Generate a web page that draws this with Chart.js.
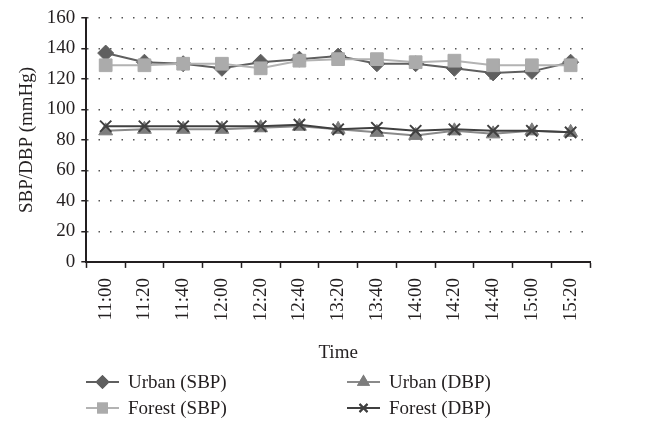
<!DOCTYPE html>
<html>
<head>
<meta charset="utf-8">
<script src="https://cdn.jsdelivr.net/npm/chart.js@4"></script>
<style>
  html, body { margin: 0; padding: 0; background: #fff; }
  .graphBox { width: 650px; height: 433px; }
</style>
</head>
<body>
<div class="graphBox"><canvas id="chart"></canvas></div>
<script>
const times = ['11:00', '11:20', '11:40', '12:00', '12:20', '12:40', '13:20', '13:40', '14:00', '14:20', '14:40', '15:00', '15:20'];
const urbanSBP = [137, 131, 130, 127, 131, 133, 135, 130, 130, 127, 124, 125, 131];
const urbanDBP = [86, 87, 87, 87, 88, 89, 87, 85, 83, 86, 84, 86, 85];
const forestSBP = [129, 129, 130, 130, 127, 132, 133, 133, 131, 132, 129, 129, 129];
const forestDBP = [89, 89, 89, 89, 89, 90, 87, 88, 86, 87, 86, 86, 85];
const yTicks = [0, 20, 40, 60, 80, 100, 120, 140, 160];

const serif = '"Liberation Serif", "DejaVu Serif", serif';
const textColor = '#231f20';

// legend drawn by hand: line with marker in the middle, two columns
const lineLegend = {
  id: 'lineLegend',
  afterDraw(chart) {
    const ctx = chart.ctx;
    const spots = [[86, 382], [347, 382], [86, 408], [347, 408]];
    chart.data.datasets.forEach((ds, i) => {
      const [x, y] = spots[i];
      ctx.save();
      ctx.strokeStyle = ds.borderColor;
      ctx.lineWidth = 2;
      ctx.beginPath();
      ctx.moveTo(x, y);
      ctx.lineTo(x + 33, y);
      ctx.stroke();
      Chart.helpers.drawPoint(ctx, {
        pointStyle: ds.pointStyle,
        radius: ds.pointRadius * 0.7,
        borderWidth: ds.pointBorderWidth || 1
      }, x + 16.5, y);
      ctx.fillStyle = ds.pointBackgroundColor;
      ctx.strokeStyle = ds.pointBorderColor;
      ctx.fill();
      ctx.stroke();
      ctx.fillStyle = textColor;
      ctx.font = '19px ' + serif;
      ctx.textBaseline = 'middle';
      ctx.fillText(ds.label, x + 42, y + 1);
      ctx.restore();
    });
  }
};

new Chart(document.getElementById('chart'), {
  type: 'line',
  data: {
    labels: times,
    datasets: [
      {
        label: 'Urban (SBP)', data: urbanSBP, order: 3,
        borderColor: '#5f5f5f', pointStyle: 'rectRot', pointRadius: 8,
        pointBackgroundColor: '#5f5f5f', pointBorderColor: '#5f5f5f', pointBorderWidth: 1
      },
      {
        label: 'Urban (DBP)', data: urbanDBP, order: 2,
        borderColor: '#8a8a8a', pointStyle: 'triangle', pointRadius: 8,
        pointBackgroundColor: '#7d7d7d', pointBorderColor: '#7d7d7d', pointBorderWidth: 1
      },
      {
        label: 'Forest (SBP)', data: forestSBP, order: 1,
        borderColor: '#b3b3b3', pointStyle: 'rect', pointRadius: 9,
        pointBackgroundColor: '#ababab', pointBorderColor: '#ababab', pointBorderWidth: 1
      },
      {
        label: 'Forest (DBP)', data: forestDBP, order: 0,
        borderColor: '#404040', pointStyle: 'crossRot', pointRadius: 8,
        pointBackgroundColor: '#404040', pointBorderColor: '#404040', pointBorderWidth: 2
      }
    ]
  },
  options: {
    responsive: true,
    maintainAspectRatio: false,
    animation: false,
    elements: { line: { borderWidth: 2, tension: 0 } },
    layout: { padding: { left: 16, right: 60, top: 18, bottom: 69 } },
    plugins: {
      legend: { display: false },
      tooltip: { enabled: false }
    },
    scales: {
      x: {
        offset: true,
        grid: {
          offset: true,
          drawOnChartArea: false,
          drawTicks: true,
          tickLength: 6,
          tickColor: '#231f20',
          tickWidth: 1.5
        },
        border: { color: '#231f20', width: 2 },
        ticks: {
          color: textColor,
          font: { family: serif, size: 19 },
          maxRotation: 90,
          minRotation: 90,
          padding: 10
        },
        title: {
          display: true,
          text: 'Time',
          color: textColor,
          font: { family: serif, size: 19 },
          padding: { top: 10, bottom: 0 }
        }
      },
      y: {
        min: 0,
        max: 160,
        afterBuildTicks(scale) {
          scale.ticks = yTicks.map(v => ({ value: v }));
        },
        grid: {
          color: '#555',
          lineWidth: 1.5,
          tickBorderDash: [0, 0],
          tickColor: '#231f20',
          tickLength: 5,
          tickWidth: 1.5
        },
        border: { color: '#231f20', width: 2, dash: [1.5, 10] },
        ticks: {
          color: textColor,
          font: { family: serif, size: 19 },
          padding: 6
        },
        title: {
          display: true,
          text: 'SBP/DBP (mmHg)',
          color: textColor,
          font: { family: serif, size: 19 },
          padding: { top: 0, bottom: 2 }
        }
      }
    }
  },
  plugins: [lineLegend]
});
</script>
</body>
</html>
